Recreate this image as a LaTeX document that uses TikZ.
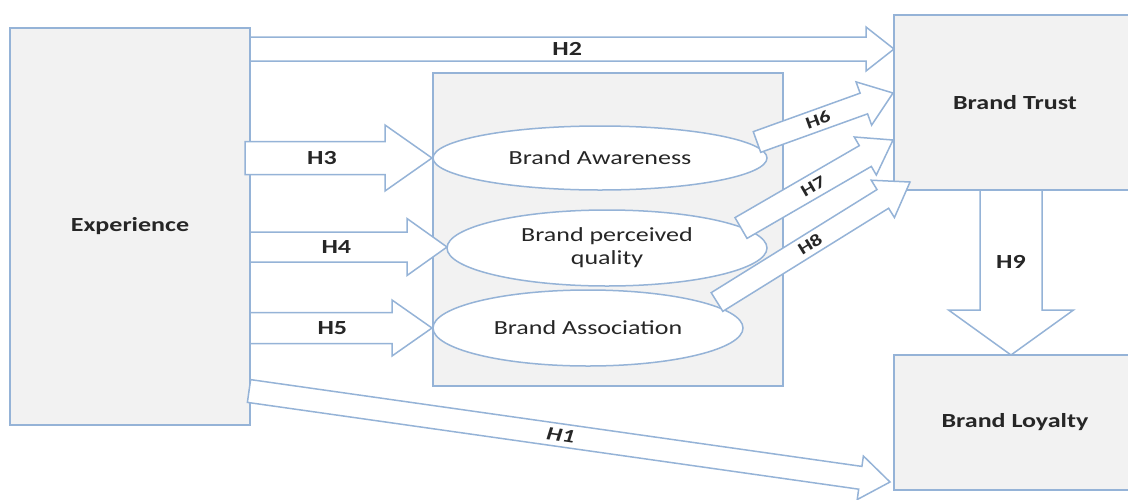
\documentclass[tikz,border=0pt]{standalone}
\usepackage{fontspec}
\setmainfont{Carlito}[FakeStretch=1.3]
\usetikzlibrary{calc,shapes.geometric}
\definecolor{bline}{RGB}{149,179,215}
\definecolor{bfill}{RGB}{242,242,242}
\definecolor{tcol}{RGB}{38,38,38}
\tikzset{
  box/.style={draw=bline, fill=bfill, line width=1.5pt, rectangle, inner sep=0pt, text=tcol, font=\fontsize{20}{24}\selectfont\bfseries},
  ell/.style={draw=bline, fill=white, line width=1.5pt, ellipse, inner sep=0pt, text=tcol, font=\fontsize{20}{23}\selectfont, align=center},
  barrow/.style={draw=bline, fill=white, line width=1.5pt, line join=miter},
  lbl/.style={text=tcol, font=\fontsize{20}{24}\selectfont\bfseries, inner sep=0pt},
  slbl/.style={sloped, font=\fontsize{17}{20}\selectfont\bfseries},
}
\newcommand\blockarr[7]{%
  \coordinate (hb) at ($(#2)!#5!(#1)$);
  \draw[barrow] ($(#1)!#3!90:(#2)$) -- ($(hb)!#3!90:(#2)$) -- ($(hb)!#4!90:(#2)$) -- (#2)
     -- ($(hb)!#4!-90:(#2)$) -- ($(hb)!#3!-90:(#2)$) -- ($(#1)!#3!-90:(#2)$) -- cycle;
  \path (#1) -- (hb) node[lbl,#6] {#7};
}
\begin{document}
\begin{tikzpicture}[x=1pt,y=-1pt]
\useasboundingbox (0,0) rectangle (1128,499);
\clip (0,0) rectangle (1128,499);
% boxes
\node[box, minimum width=240pt, minimum height=397pt] (exp) at (130,226.5) {Experience};
\node[box, minimum width=242pt, minimum height=175pt] (trust) at (1015,102.5) {Brand Trust};
\node[box, minimum width=242pt, minimum height=135pt] (loyal) at (1015,422.5) {Brand Loyalty};
\node[box, minimum width=350pt, minimum height=313pt] (mid) at (608,229.5) {};
% ellipses
\node[ell, minimum width=334pt, minimum height=64pt] (aw) at (600,158) {Brand Awareness};
\node[ell, minimum width=320pt, minimum height=76pt] (pq) at (607,248) {Brand perceived\\quality};
\node[ell, minimum width=310pt, minimum height=76pt] (as) at (588,328) {Brand Association};
% arrow end points
\coordinate (h2s) at (250,49);   \coordinate (h2e) at (894,49);
\coordinate (h3s) at (245,158);  \coordinate (h3e) at (432,158);
\coordinate (h4s) at (250,247);  \coordinate (h4e) at (447,247);
\coordinate (h5s) at (250,328);  \coordinate (h5e) at (432,328);
\coordinate (h1s) at (249,391);  \coordinate (h1e) at (890,482);
\coordinate (h6s) at (757,142);  \coordinate (h6e) at (893,93);
\coordinate (h7s) at (741,228);  \coordinate (h7e) at (893,140);
\coordinate (h8s) at (717,302);  \coordinate (h8e) at (910,182);
\coordinate (h9s) at (1011,190); \coordinate (h9e) at (1011,355);
% arrows
\blockarr{h2s}{h2e}{12pt}{22pt}{28pt}{pos=0.515}{H2}
\blockarr{h3s}{h3e}{16.5pt}{33pt}{47pt}{pos=0.55}{H3}
\blockarr{h4s}{h4e}{15pt}{28.5pt}{40pt}{pos=0.55}{H4}
\blockarr{h5s}{h5e}{15.5pt}{28pt}{40pt}{pos=0.58}{H5}
\blockarr{h1s}{h1e}{11.5pt}{22pt}{30pt}{sloped,pos=0.51,font=\fontsize{19}{22}\selectfont\bfseries\itshape}{H1}
\blockarr{h6s}{h6e}{11pt}{23pt}{31pt}{slbl,pos=0.57}{H6}
\blockarr{h7s}{h7e}{12pt}{22pt}{32pt}{slbl,pos=0.58}{H7}
\blockarr{h8s}{h8e}{11pt}{22pt}{32pt}{slbl,pos=0.56}{H8}
\blockarr{h9s}{h9e}{31pt}{62.5pt}{45pt}{pos=0.6}{H9}
\end{tikzpicture}
\end{document}
